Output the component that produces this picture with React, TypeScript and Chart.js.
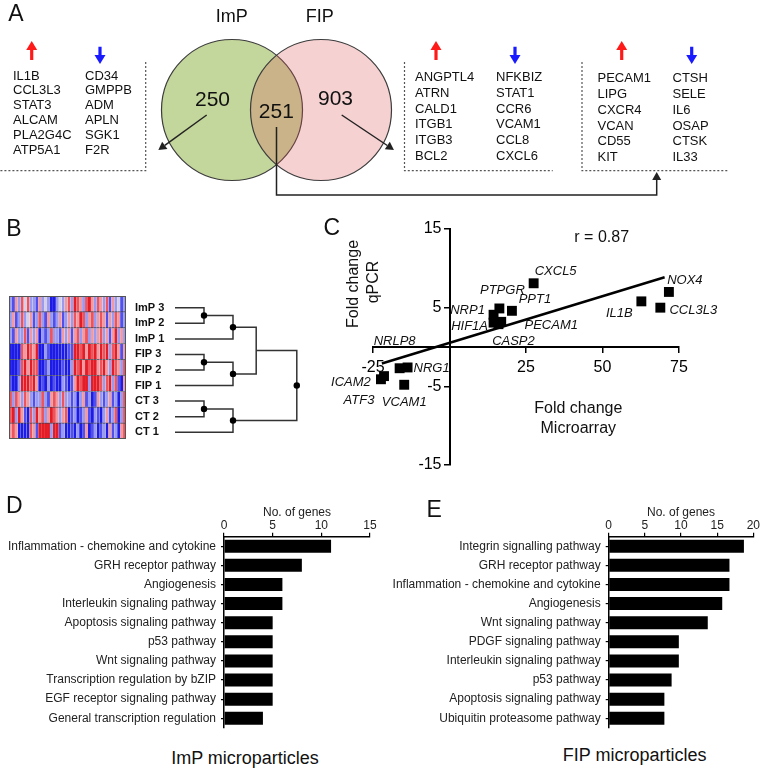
import React, { useEffect, useRef } from "react";
import { Chart, registerables } from "chart.js";

Chart.register(...registerables);
const FONT = "'Liberation Sans', Arial, Helvetica, sans-serif";
Chart.defaults.font.family = FONT;
Chart.defaults.color = "#111";

// ---------------- Panel A data ----------------
const vennSetLabels = ["ImP", "FIP"];
const vennCounts = [250, 251, 903]; // ImP only, shared, FIP only
const impOnlyUp = ["IL1B", "CCL3L3", "STAT3", "ALCAM", "PLA2G4C", "ATP5A1"];
const impOnlyDown = ["CD34", "GMPPB", "ADM", "APLN", "SGK1", "F2R"];
const fipOnlyUp = ["ANGPTL4", "ATRN", "CALD1", "ITGB1", "ITGB3", "BCL2"];
const fipOnlyDown = ["NFKBIZ", "STAT1", "CCR6", "VCAM1", "CCL8", "CXCL6"];
const sharedUp = ["PECAM1", "LIPG", "CXCR4", "VCAN", "CD55", "KIT"];
const sharedDown = ["CTSH", "SELE", "IL6", "OSAP", "CTSK", "IL33"];

// ---------------- Panel B data ----------------
const sampleLabels = ["ImP 3", "ImP 2", "ImP 1", "FIP 3", "FIP 2", "FIP 1", "CT 3", "CT 2", "CT 1"];
const heatImP3 = [-1, -2, 1, -1, 2, 0, 2, -1, -1, -2, 1, -1, 0, -1, -3, -3, -1, 0, -1, 1, 2, -1, 3, 2, 1, -1, 2, 3, 1, -1, 2, 1, -1, 2, -2, 1, -1, 0, -2, -1];
const heatImP2 = [-1, 1, -2, -1, 2, -1, 0, 1, -2, -1, 2, -1, -2, 1, -1, -2, -1, 1, -2, -1, 1, -1, 2, 1, 3, 2, -1, 1, 2, -1, 1, 2, 1, -2, 1, -1, 2, 1, -2, -1];
const heatImP1 = [-1, -2, 1, -1, -1, 2, -2, 1, -1, 1, -3, -1, -2, -1, 2, -1, -1, -2, 1, -1, 1, -2, 1, 2, -1, 1, 2, -1, 1, -1, 1, 2, -1, 1, -2, 1, 3, -1, 1, -1];
const heatFIP3 = [-3, -3, -3, -3, 2, 1, 3, 2, 1, 3, -3, -3, -1, -2, -3, -3, -3, -3, -3, -3, -2, -2, 3, 3, 2, 3, 1, 3, 2, 3, 1, 3, 2, 3, -1, 2, 3, 1, -2, 1];
const heatFIP2 = [-3, -3, -3, -2, 2, 3, 1, 3, 2, 2, -3, -3, -2, -1, -3, -3, -3, -3, -2, -3, -3, -1, 3, 2, 3, 1, 3, 2, 3, 3, 1, 2, 3, 1, -1, 3, 2, 1, -1, 2];
const heatFIP1 = [-2, -3, -3, -1, 3, 3, 3, 2, 3, 1, -3, -2, -3, -1, -3, -2, -3, -3, -1, -2, -3, -2, 1, 3, 2, 3, 3, -1, 3, 3, 3, 2, -1, 2, 3, -1, 2, -2, -3, 1];
const heatCT3 = [2, -1, 2, 1, -1, 2, 1, -1, -2, -1, -1, 2, -1, -2, 1, 2, 1, -1, 2, -1, -1, -2, -1, -3, -1, 1, -2, -1, -3, -2, 1, -1, -2, -1, 1, -2, -1, -3, -1, 2];
const heatCT2 = [2, 3, -1, 3, 1, -2, -3, 2, -1, 3, 1, 2, -1, 1, 3, 2, 1, -1, 1, 2, -3, -2, -1, -3, -2, -1, 1, -2, -3, -1, -2, -3, -1, 1, -2, -1, 2, -3, -1, 2];
const heatCT1 = [1, 2, 1, -3, -3, -3, -3, 2, 1, -2, 3, 3, 3, 3, -1, 3, 3, -2, -1, -3, -3, -2, -3, -1, -3, -2, 1, -3, -2, -1, -3, -2, -1, -3, 1, -2, -1, -3, 1, 2];
// merges: child = leaf index (number) or "nK" (earlier merge K); height = linkage distance
const dendroMerges = [
  { a: 0, b: 1, height: 1.0, dot: true },
  { a: "n0", b: 2, height: 2.0, dot: true },
  { a: 3, b: 4, height: 1.0, dot: true },
  { a: "n2", b: 5, height: 2.0, dot: true },
  { a: "n1", b: "n3", height: 2.8, dot: false },
  { a: 6, b: 7, height: 1.0, dot: true },
  { a: "n5", b: 8, height: 2.0, dot: true },
  { a: "n4", b: "n6", height: 4.2, dot: true },
];

// ---------------- Panel C data ----------------
const qpcrGenes = ["CXCL5", "NOX4", "IL1B", "CCL3L3", "PTPGR", "PPT1", "NRP1", "HIF1A", "PECAM1", "CASP2", "NRLP8", "NRG1", "ICAM2", "ATF3", "VCAM1"];
const microarrayFC = [27.5, 71.7, 62.7, 68.9, 16.3, 20.4, 14.4, 14.4, 16.9, 16.0, -16.3, -13.7, -22.4, -21.4, -14.8];
const qpcrFC = [8.1, 7.0, 5.8, 5.0, 4.9, 4.6, 4.1, 3.1, 3.2, 2.9, -2.7, -2.6, -4.1, -3.7, -4.8];
const fitSlope = 0.1186;
const fitIntercept = 0.52;
const fitRange = [-22.1, 70.3];
const correlationR = 0.87;
const xTicksC = [-25, 0, 25, 50, 75];
const yTicksC = [-15, -5, 5, 15];
// label offsets (px) from each point
const geneLabelOffsets = [
  [22, -12], [16, -12], [-22, 12], [33, 3], [3, -18], [23, -11], [-26, -4], [-24, 4],
  [50, 4], [15, 17], [-5, -27], [24, 1], [-30, 3], [-25, 24], [0, 18],
];

// ---------------- Panel D / E data ----------------
const impPathways = [
  "Inflammation - chemokine and cytokine", "GRH receptor pathway", "Angiogenesis",
  "Interleukin signaling pathway", "Apoptosis signaling pathway", "p53 pathway",
  "Wnt signaling pathway", "Transcription regulation by bZIP", "EGF receptor signaling pathway",
  "General transcription regulation",
];
const impGeneCounts = [11, 8, 6, 6, 5, 5, 5, 5, 5, 4];
const fipPathways = [
  "Integrin signalling pathway", "GRH receptor pathway", "Inflammation - chemokine and cytokine",
  "Angiogenesis", "Wnt signaling pathway", "PDGF signaling pathway", "Interleukin signaling pathway",
  "p53 pathway", "Apoptosis signaling pathway", "Ubiquitin proteasome pathway",
];
const fipGeneCounts = [18.7, 16.7, 16.7, 15.7, 13.7, 9.7, 9.7, 8.7, 7.7, 7.7];

// ---------------- helpers ----------------
const heatPalette: Record<string, string> = {
  "-3": "#1c1ce6", "-2": "#5050ee", "-1": "#9a9af0", "0": "#d6cfe8",
  "1": "#f29aa2", "2": "#ee545c", "3": "#e41c26",
};
const heatColor = (v: number) => heatPalette[String(v)];

type Box = { left: number; top: number; width: number; height: number };

function ChartCanvas({ box, build }: { box: Box; build: () => any }) {
  const ref = useRef<HTMLCanvasElement | null>(null);
  useEffect(() => {
    if (!ref.current) return;
    const chart = new Chart(ref.current, build());
    return () => chart.destroy();
  }, []);
  return (
    <canvas
      ref={ref}
      width={box.width}
      height={box.height}
      style={{ position: "absolute", left: box.left, top: box.top, width: box.width, height: box.height, display: "block" }}
    />
  );
}

function Txt(props: {
  x: number; y: number; text: string | number; size: number; align?: "left" | "center" | "right";
  weight?: string; italic?: boolean; rotate?: number; color?: string;
}) {
  const { x, y, text, size, align = "left", weight = "normal", italic = false, rotate = 0, color = "#111" } = props;
  const tx = align === "left" ? "0" : align === "center" ? "-50%" : "-100%";
  return (
    <div
      style={{
        position: "absolute", left: x, top: y, whiteSpace: "nowrap",
        transform: `translate(${tx}, -50%)` + (rotate ? ` rotate(${rotate}deg)` : ""),
        transformOrigin: "50% 50%",
        fontFamily: FONT, fontSize: size, lineHeight: `${size}px`, fontWeight: weight as any,
        fontStyle: italic ? "italic" : "normal", color,
      }}
    >
      {text}
    </div>
  );
}

const noInteract = { animation: false, responsive: false, events: [] as any[], devicePixelRatio: 1 };
const noLegend = { legend: { display: false }, tooltip: { enabled: false } };

// arrowhead plugin (draws a head beyond the last point of datasets flagged with arrowHead)
const arrowHeadPlugin = {
  id: "arrowHeads",
  afterDatasetsDraw(chart: any) {
    const ctx = chart.ctx;
    chart.data.datasets.forEach((ds: any, i: number) => {
      if (!ds.arrowHead) return;
      const pts = chart.getDatasetMeta(i).data;
      const a = pts[pts.length - 2];
      const b = pts[pts.length - 1];
      const ang = Math.atan2(b.y - a.y, b.x - a.x);
      const { len, half } = ds.arrowHead;
      const tx = b.x + len * Math.cos(ang);
      const ty = b.y + len * Math.sin(ang);
      ctx.save();
      ctx.fillStyle = ds.borderColor;
      ctx.beginPath();
      ctx.moveTo(tx, ty);
      ctx.lineTo(b.x + half * Math.sin(ang), b.y - half * Math.cos(ang));
      ctx.lineTo(b.x - half * Math.sin(ang), b.y + half * Math.cos(ang));
      ctx.closePath();
      ctx.fill();
      ctx.restore();
    });
  },
};

// ---------------- Panel A chart (Venn + connectors) ----------------
const vennCircles = [
  { x: 232, y: 110, r: 70.5 },
  { x: 321, y: 110, r: 70.5 },
];
const markerArrows = [
  { x: 31.7, from: 60, to: 50, color: "#ff1a1a" },
  { x: 100, from: 46.7, to: 55, color: "#1a1aff" },
  { x: 436, from: 60, to: 50, color: "#ff1a1a" },
  { x: 515, from: 46.7, to: 55, color: "#1a1aff" },
  { x: 621.7, from: 60, to: 50, color: "#ff1a1a" },
  { x: 691.7, from: 46.7, to: 55, color: "#1a1aff" },
];
const connectorArrows = [
  [[206.7, 115], [164.8, 145.3]],
  [[341.7, 115], [387.3, 145.5]],
  [[276.5, 127], [276.5, 195], [656.7, 195], [656.7, 180]],
];
const dashedBoxes = [
  [[145.7, 62], [145.7, 170.7], [0, 170.7]],
  [[404.5, 62], [404.5, 170.7], [552.7, 170.7]],
  [[582, 62], [582, 170.7], [729, 170.7]],
];

const A_PAD = 90; // fixed padding so bubble overflow does not change the chart area
function buildPanelA() {
  const line = (pts: number[][], extra: any) => ({
    type: "line", data: pts.map(([x, y]) => ({ x, y })), showLine: true, pointRadius: 0,
    fill: false, tension: 0, borderColor: "#222", borderWidth: 1.5, ...extra,
  });
  const datasets: any[] = [
    ...markerArrows.map((m) => line([[m.x, m.from], [m.x, m.to]], { borderColor: m.color, borderWidth: 3.2, arrowHead: { len: 9, half: 5.5 } })),
    ...connectorArrows.map((p) => line(p, { borderColor: "#222", borderWidth: 1.5, arrowHead: { len: 8, half: 4.5 } })),
    ...dashedBoxes.map((p) => line(p, { borderColor: "#555", borderWidth: 1.2, borderDash: [2, 2] })),
    {
      type: "bubble", data: vennCircles,
      backgroundColor: ["#c3d69b", "rgba(222,84,84,0.27)"],
      borderColor: "#3c3c3c", borderWidth: 1.2, hoverRadius: 0,
    },
  ];
  return {
    type: "scatter",
    data: { datasets },
    options: {
      ...noInteract,
      layout: { padding: A_PAD },
      plugins: noLegend,
      scales: {
        x: { type: "linear", min: 0, max: 760, display: false },
        y: { type: "linear", min: 0, max: 200, reverse: true, display: false },
      },
    },
    plugins: [arrowHeadPlugin],
  };
}

// ---------------- Panel B charts ----------------
function buildHeatmap() {
  const rows = [heatImP3, heatImP2, heatImP1, heatFIP3, heatFIP2, heatFIP1, heatCT3, heatCT2, heatCT1];
  const ncol = rows[0].length;
  const datasets = Array.from({ length: ncol }, (_, j) => ({
    data: rows.map(() => 1),
    backgroundColor: rows.map((r) => heatColor(r[j])),
    borderColor: "#3a3a4a",
    borderWidth: { top: 0.6, bottom: 0.6, left: 0, right: 0 },
    borderSkipped: false,
    barPercentage: 1,
    categoryPercentage: 1,
    inflateAmount: 0.2,
  }));
  const frame = {
    id: "frame",
    afterDatasetsDraw(chart: any) {
      const { ctx, chartArea: a } = chart;
      ctx.save();
      ctx.strokeStyle = "#555";
      ctx.lineWidth = 1;
      ctx.strokeRect(a.left + 0.5, a.top + 0.5, a.right - a.left - 1, a.bottom - a.top - 1);
      ctx.restore();
    },
  };
  return {
    type: "bar",
    data: { labels: sampleLabels, datasets },
    options: {
      ...noInteract,
      indexAxis: "y",
      layout: { padding: 0 },
      plugins: noLegend,
      scales: {
        x: { stacked: true, min: 0, max: ncol, display: false },
        y: { stacked: true, display: false },
      },
    },
    plugins: [frame],
  };
}

function buildDendrogram() {
  const nodeY: number[] = [];
  const nodeH: number[] = [];
  const pos = (c: number | string) =>
    typeof c === "number" ? { y: c, h: 0 } : { y: nodeY[parseInt(c.slice(1))], h: nodeH[parseInt(c.slice(1))] };
  const datasets: any[] = [];
  const dots: any[] = [];
  dendroMerges.forEach((m, k) => {
    const a = pos(m.a);
    const b = pos(m.b);
    nodeY[k] = (a.y + b.y) / 2;
    nodeH[k] = m.height;
    datasets.push({
      type: "line",
      data: [{ x: a.h, y: a.y }, { x: m.height, y: a.y }, { x: m.height, y: b.y }, { x: b.h, y: b.y }],
      showLine: true, pointRadius: 0, borderColor: "#333", borderWidth: 1.5, tension: 0, fill: false,
    });
    if (m.dot) dots.push({ x: m.height, y: nodeY[k] });
  });
  datasets.unshift({ data: dots, pointRadius: 3.2, backgroundColor: "#000", borderWidth: 0 });
  return {
    type: "scatter",
    data: { datasets },
    options: {
      ...noInteract,
      layout: { padding: { left: 0, top: 10, right: 10, bottom: 10 } },
      plugins: noLegend,
      scales: {
        x: { type: "linear", min: 0, max: 4.483, display: false },
        y: {
          type: "linear", min: -0.5, max: 8.5, reverse: true, position: "left",
          afterBuildTicks: (s: any) => { s.ticks = sampleLabels.map((_, i) => ({ value: i })); },
          afterFit: (s: any) => { s.width = 40; },
          ticks: {
            callback: (v: any) => sampleLabels[v] ?? "",
            crossAlign: "far", font: { size: 11, weight: "bold" }, color: "#111", autoSkip: false, padding: 0,
          },
          grid: { display: false, drawTicks: false },
          border: { display: false },
        },
      },
    },
  };
}

// ---------------- Panel C chart ----------------
const geneLabelPlugin = {
  id: "geneLabels",
  afterDatasetsDraw(chart: any) {
    const ctx = chart.ctx;
    const meta = chart.getDatasetMeta(0);
    ctx.save();
    ctx.font = `italic 13px ${FONT}`;
    ctx.fillStyle = "#111";
    ctx.textAlign = "center";
    ctx.textBaseline = "middle";
    meta.data.forEach((el: any, i: number) => {
      const [dx, dy] = geneLabelOffsets[i];
      ctx.fillText(qpcrGenes[i], el.x + dx, el.y + dy);
    });
    ctx.restore();
  },
};

function buildPanelC() {
  const points = qpcrGenes.map((_, i) => ({ x: microarrayFC[i], y: qpcrFC[i] }));
  const fit = fitRange.map((x) => ({ x, y: fitSlope * x + fitIntercept }));
  const axisCommon = {
    grid: { drawOnChartArea: false, drawTicks: true, tickLength: 5, color: "#000", lineWidth: 1.5 },
    border: { display: true, color: "#000", width: 2 },
  };
  return {
    type: "scatter",
    data: {
      datasets: [
        { data: points, pointStyle: "rect", pointRadius: 7, pointHoverRadius: 7, backgroundColor: "#000", borderWidth: 0 },
        { type: "line", data: fit, showLine: true, borderColor: "#000", borderWidth: 2.5, pointRadius: 0, fill: false },
      ],
    },
    options: {
      ...noInteract,
      layout: { padding: { left: 43, top: 14, right: 41, bottom: 15 } },
      plugins: noLegend,
      scales: {
        x: {
          type: "linear", min: xTicksC[0], max: xTicksC[xTicksC.length - 1], position: { y: 0 },
          afterBuildTicks: (s: any) => { s.ticks = xTicksC.map((v) => ({ value: v })); },
          ticks: { autoSkip: false, color: "#000", font: { size: 16 }, padding: 6, callback: (v: any) => (v === 0 ? "" : String(v)) },
          ...axisCommon,
        },
        y: {
          type: "linear", min: yTicksC[0], max: yTicksC[yTicksC.length - 1], position: { x: 0 },
          afterBuildTicks: (s: any) => { s.ticks = yTicksC.map((v) => ({ value: v })); },
          ticks: { autoSkip: false, color: "#000", font: { size: 16 }, padding: 2, callback: (v: any) => `${v}\u2002` },
          ...axisCommon,
        },
      },
    },
    plugins: [geneLabelPlugin],
  };
}

// ---------------- Panel D / E charts ----------------
function buildBars(labels: string[], values: number[], xMax: number, yAxisWidth: number, padRight: number) {
  return {
    type: "bar",
    data: {
      labels,
      datasets: [{ data: values, backgroundColor: "#000", borderWidth: 0, barPercentage: 0.68, categoryPercentage: 1 }],
    },
    options: {
      ...noInteract,
      indexAxis: "y",
      layout: { padding: { left: 0, top: 0, right: padRight, bottom: 8 } },
      plugins: noLegend,
      scales: {
        x: {
          position: "top", min: 0, max: xMax,
          ticks: { stepSize: 5, color: "#222", font: { size: 12 }, padding: 0 },
          grid: { drawOnChartArea: false, drawTicks: true, tickLength: 4, color: "#000", lineWidth: 1.2 },
          border: { display: true, color: "#000", width: 1.5 },
          title: { display: true, text: "No. of genes", color: "#222", font: { size: 12 }, padding: { top: 10.5, bottom: 0 } },
          afterFit: (s: any) => { s.height = 41.7; },
        },
        y: {
          ticks: { color: "#222", font: { size: 12 }, padding: 5, autoSkip: false },
          grid: { drawOnChartArea: false, drawTicks: true, tickLength: 3, color: "#000", lineWidth: 1.2, offset: false },
          border: { display: true, color: "#000", width: 1.5 },
          afterFit: (s: any) => { s.width = yAxisWidth; },
        },
      },
    },
  };
}

// ---------------- layout ----------------
const geneColumns = [
  { genes: impOnlyUp, x: 13, y0: 74.5, dy: 14.9 },
  { genes: impOnlyDown, x: 85, y0: 74.5, dy: 14.9 },
  { genes: fipOnlyUp, x: 415, y0: 76.2, dy: 15.76 },
  { genes: fipOnlyDown, x: 496, y0: 76.2, dy: 15.76 },
  { genes: sharedUp, x: 597.5, y0: 77.2, dy: 15.8 },
  { genes: sharedDown, x: 672.5, y0: 77.2, dy: 15.8 },
];

export default function App() {
  return (
    <div style={{ position: "fixed", left: 0, top: 0, width: 760, height: 769, background: "#fff", overflow: "hidden" }}>
      <ChartCanvas box={{ left: -A_PAD, top: -A_PAD, width: 760 + 2 * A_PAD, height: 200 + 2 * A_PAD }} build={buildPanelA} />
      <ChartCanvas box={{ left: 9, top: 296, width: 117, height: 143 }} build={buildHeatmap} />
      <ChartCanvas box={{ left: 135, top: 290, width: 180, height: 160 }} build={buildDendrogram} />
      <ChartCanvas box={{ left: 330, top: 215, width: 390, height: 265 }} build={buildPanelC} />
      <ChartCanvas box={{ left: 0, top: 495, width: 385, height: 245 }} build={() => buildBars(impPathways, impGeneCounts, 15, 224, 15)} />
      <ChartCanvas box={{ left: 385, top: 495, width: 375, height: 245 }} build={() => buildBars(fipPathways, fipGeneCounts, 20, 223.7, 6)} />

      {/* Panel letters */}
      <Txt x={15.8} y={13.3} text="A" size={23} align="center" />
      <Txt x={13.8} y={228.3} text="B" size={23} align="center" />
      <Txt x={331.7} y={226.5} text="C" size={23} align="center" />
      <Txt x={14.2} y={505} text="D" size={23} align="center" />
      <Txt x={434.2} y={509.2} text="E" size={23} align="center" />

      {/* Venn labels */}
      <Txt x={231.7} y={15.8} text={vennSetLabels[0]} size={18} align="center" />
      <Txt x={319.7} y={15.8} text={vennSetLabels[1]} size={18} align="center" />
      <Txt x={212.5} y={97.5} text={vennCounts[0]} size={21} align="center" />
      <Txt x={276.3} y={109.5} text={vennCounts[1]} size={21} align="center" />
      <Txt x={335.5} y={97.2} text={vennCounts[2]} size={21} align="center" />

      {geneColumns.map((c, ci) =>
        c.genes.map((g, i) => <Txt key={`${ci}-${i}`} x={c.x} y={c.y0 + i * c.dy} text={g} size={13} />)
      )}

      {/* Panel C texts */}
      <Txt x={601.7} y={236.7} text={`r = ${correlationR}`} size={16} align="center" />
      <Txt x={353.3} y={283.8} text="Fold change" size={16} align="center" rotate={-90} />
      <Txt x={373.3} y={281.7} text="qPCR" size={16} align="center" rotate={-90} />
      <Txt x={578.3} y={408.3} text="Fold change" size={16} align="center" />
      <Txt x={578.3} y={428.3} text="Microarray" size={16} align="center" />

      {/* Panel D/E titles */}
      <Txt x={245} y={758} text="ImP microparticles" size={18} align="center" />
      <Txt x={634.7} y={755} text="FIP microparticles" size={18} align="center" />
    </div>
  );
}
